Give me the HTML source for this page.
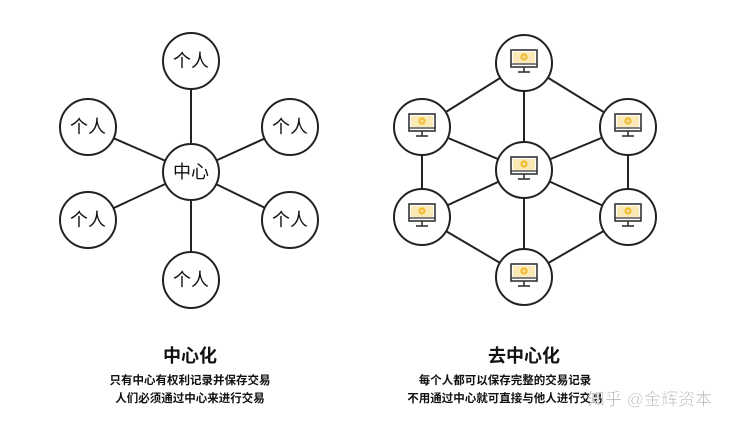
<!DOCTYPE html>
<html><head><meta charset="utf-8"><style>
html,body{margin:0;padding:0;background:#fff;width:741px;height:427px;overflow:hidden}
svg{display:block}
text{font-family:"Liberation Sans","Noto Sans CJK SC",sans-serif}
</style></head><body>
<svg width="741" height="427" viewBox="0 0 741 427" xmlns="http://www.w3.org/2000/svg">
<defs>
<g id="pc">
<rect x="-13" y="-12" width="26" height="17" fill="#fff" stroke="#333" stroke-width="1.6"/>
<rect x="-11" y="-10" width="22" height="11" fill="#fbe9b5"/>
<line x1="-13" y1="2" x2="13" y2="2" stroke="#333" stroke-width="1.2"/>
<circle cx="0" cy="-5" r="3.6" fill="#f0b92e"/>
<circle cx="0" cy="-5" r="1.6" fill="#fbe0a0"/>
<line x1="0" y1="5" x2="0" y2="10" stroke="#333" stroke-width="1.6"/>
<line x1="-6" y1="10" x2="6" y2="10" stroke="#333" stroke-width="1.6"/>
</g>
</defs>
<g stroke="#222" stroke-width="2" fill="none">
<line x1="191" y1="172" x2="191" y2="61"/>
<line x1="191" y1="172" x2="88" y2="127"/>
<line x1="191" y1="172" x2="290" y2="127"/>
<line x1="191" y1="172" x2="88" y2="220"/>
<line x1="191" y1="172" x2="290" y2="220"/>
<line x1="191" y1="172" x2="191" y2="280"/>
<line x1="524" y1="63" x2="422" y2="127"/>
<line x1="524" y1="63" x2="628" y2="127"/>
<line x1="524" y1="63" x2="524" y2="170"/>
<line x1="422" y1="127" x2="422" y2="217"/>
<line x1="628" y1="127" x2="628" y2="217"/>
<line x1="422" y1="127" x2="524" y2="170"/>
<line x1="628" y1="127" x2="524" y2="170"/>
<line x1="422" y1="217" x2="524" y2="170"/>
<line x1="628" y1="217" x2="524" y2="170"/>
<line x1="524" y1="170" x2="524" y2="277"/>
<line x1="422" y1="217" x2="524" y2="277"/>
<line x1="628" y1="217" x2="524" y2="277"/>
</g>
<g stroke="#222" stroke-width="2" fill="#fff">
<circle cx="191" cy="61" r="28"/><circle cx="88" cy="127" r="28"/><circle cx="290" cy="127" r="28"/>
<circle cx="191" cy="172" r="28"/><circle cx="88" cy="220" r="28"/><circle cx="290" cy="220" r="28"/>
<circle cx="191" cy="280" r="28"/>
<circle cx="524" cy="63" r="28"/><circle cx="422" cy="127" r="28"/><circle cx="628" cy="127" r="28"/>
<circle cx="524" cy="170" r="28"/><circle cx="422" cy="217" r="28"/><circle cx="628" cy="217" r="28"/>
<circle cx="524" cy="277" r="28"/>
</g>
<g font-size="18" fill="#111" text-anchor="middle">
<text x="191" y="67">个人</text><text x="88" y="133">个人</text><text x="290" y="133">个人</text>
<text x="191" y="178">中心</text><text x="88" y="226">个人</text><text x="290" y="226">个人</text>
<text x="191" y="286">个人</text>
</g>
<use href="#pc" x="524" y="62"/><use href="#pc" x="422" y="126"/><use href="#pc" x="628" y="126"/>
<use href="#pc" x="524" y="169"/><use href="#pc" x="422" y="216"/><use href="#pc" x="628" y="216"/>
<use href="#pc" x="524" y="276"/>
<g fill="#111" text-anchor="middle" font-weight="bold">
<text x="190" y="362" font-size="18">中心化</text>
<text x="190" y="384" font-size="11.5">只有中心有权利记录并保存交易</text>
<text x="190" y="402" font-size="11.5">人们必须通过中心来进行交易</text>
<text x="524" y="362" font-size="18">去中心化</text>
<text x="505" y="384" font-size="11.5">每个人都可以保存完整的交易记录</text>
<text x="505" y="402" font-size="11.5">不用通过中心就可直接与他人进行交易</text>
</g>
<text x="650" y="405" font-size="17" fill="#aaa" text-anchor="middle" stroke="#fff" stroke-width="0.6">知乎 @金辉资本</text>
</svg>
</body></html>
